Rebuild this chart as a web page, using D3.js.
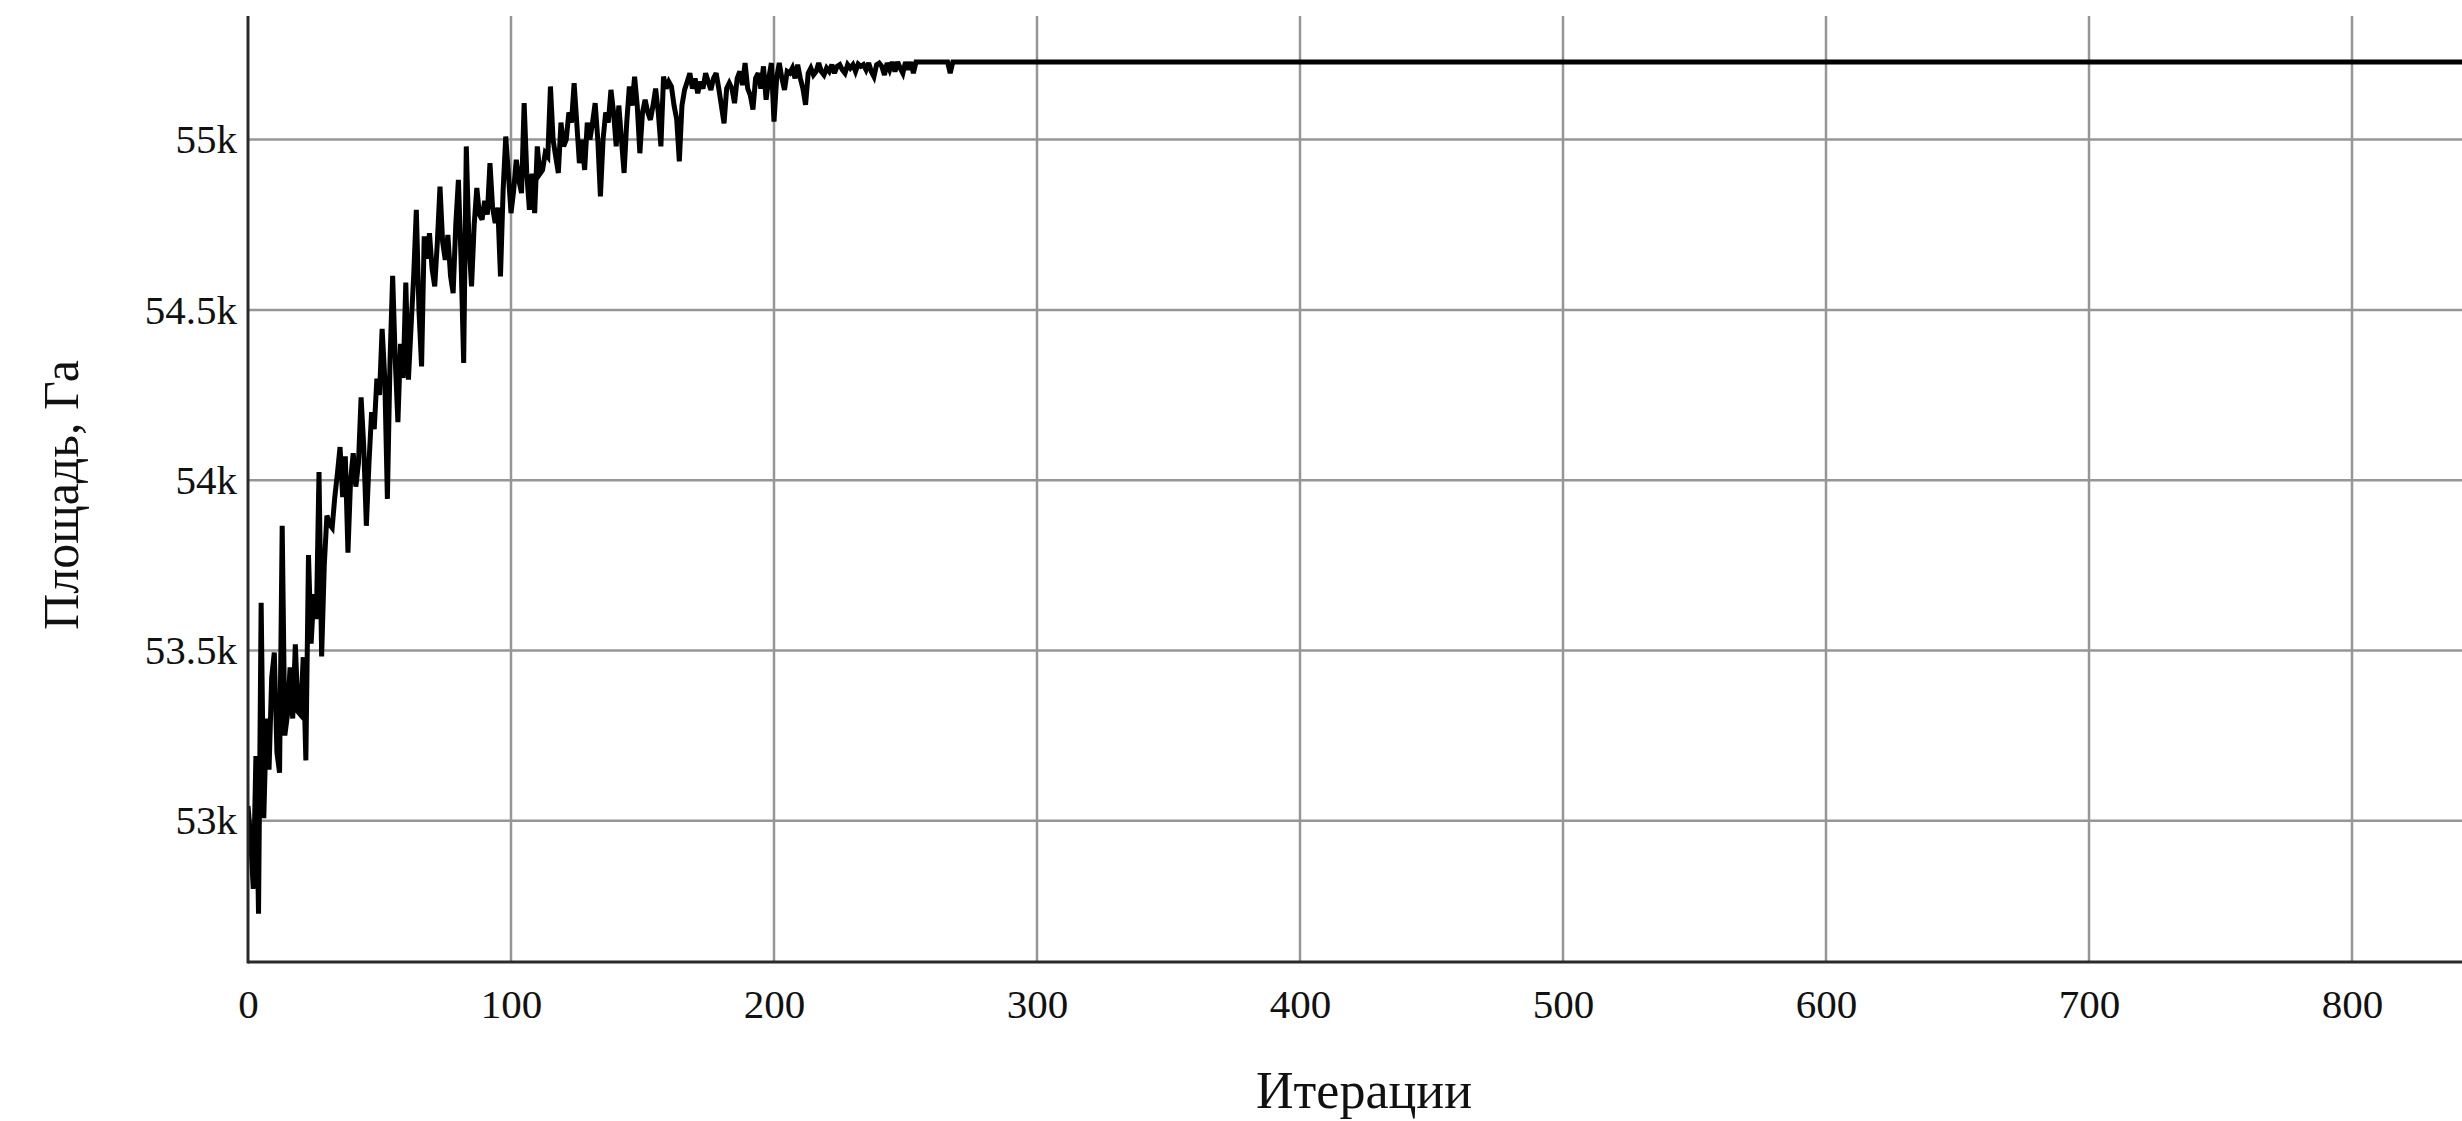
<!DOCTYPE html>
<html><head><meta charset="utf-8">
<script src="https://cdn.jsdelivr.net/npm/d3@7"></script>
<style>
html,body{margin:0;padding:0;background:#fff;overflow:hidden;}
text{font-family:"Liberation Serif","Times New Roman",serif;fill:#111;}
</style></head>
<body>
<svg id="chart" width="2462" height="1121"></svg>
<script>
// Area (ha) per iteration, starting at iteration 0
const areaValues = [
53043,52950,52800,53190,52727,53640,53007,53300,53150,53420,
53494,53200,53141,53866,53250,53311,53450,53300,53518,53320,
53311,53480,53177,53780,53520,53665,53592,54024,53482,53750,
53896,53870,53860,53950,54020,54097,53950,54070,53787,54000,
54079,53981,54050,54243,54100,53866,54050,54200,54150,54298,
54250,54444,54300,53945,54350,54600,54350,54170,54400,54300,
54580,54295,54450,54600,54794,54500,54334,54716,54650,54725,
54620,54569,54700,54862,54700,54647,54720,54600,54549,54750,
54882,54650,54344,54980,54700,54569,54750,54858,54780,54765,
54820,54780,54931,54800,54755,54800,54598,54850,55009,54900,
54784,54850,54941,54880,54843,55107,54900,54794,54900,54784,
54980,54900,54911,54960,54950,55156,55000,54950,54902,55050,
54980,55000,55080,55050,55166,55050,54931,55000,54911,55050,
55000,55050,55107,55000,54833,55000,55080,55050,55146,55080,
54980,55100,55000,54902,55050,55156,55100,55185,55100,54960,
55080,55117,55080,55058,55100,55150,55080,54980,55185,55150,
55170,55156,55100,55060,54936,55100,55146,55170,55195,55150,
55180,55136,55170,55150,55195,55170,55146,55180,55195,55150,
55100,55048,55150,55166,55150,55107,55180,55200,55160,55225,
55150,55130,55088,55180,55195,55150,55215,55117,55180,55225,
55053,55180,55225,55180,55146,55200,55195,55210,55180,55220,
55180,55150,55102,55195,55210,55190,55200,55225,55200,55190,
55210,55200,55220,55195,55215,55220,55205,55195,55220,55210,
55220,55200,55222,55215,55220,55205,55225,55200,55185,55220,
55225,55215,55190,55225,55205,55228,55200,55228,55210,55195,
55228,55205,55228,55195,55228,55228,55228,55228,55228,55228,
55228,55228,55228,55228,55228,55228,55228,55195,55228
];
const lastIteration = 1000;
const lastValue = 55228;
const xTicks = [0,100,200,300,400,500,600,700,800];
const yTicks = [53000,53500,54000,54500,55000];
const xTitle = "Итерации";
const yTitle = "Площадь, Га";

const W = 2462, H = 1121;
const mLeft = 248, mRight = W, mTop = 16, mBottom = 962;

const svg = d3.select("#chart");
const x = d3.scaleLinear().domain([0, 800]).range([mLeft, 2352]);
const y = d3.scaleLinear().domain([52585, 55363]).range([mBottom, mTop]);

const data = areaValues.map((v, i) => [i, v]);
data.push([lastIteration, lastValue]);

// grid
const grid = svg.append("g");
grid.selectAll("line.hg").data(yTicks).join("line")
  .attr("x1", mLeft).attr("x2", mRight)
  .attr("y1", d => y(d)).attr("y2", d => y(d))
  .attr("stroke", "#969696").attr("stroke-width", 2.5);
grid.selectAll("line.vg").data(xTicks.filter(d => d > 0)).join("line")
  .attr("x1", d => x(d)).attr("x2", d => x(d))
  .attr("y1", mTop).attr("y2", mBottom)
  .attr("stroke", "#969696").attr("stroke-width", 2.5);

// line
svg.append("defs").append("clipPath").attr("id", "clip")
  .append("rect").attr("x", mLeft).attr("y", mTop).attr("width", mRight - mLeft).attr("height", mBottom - mTop);
svg.append("path").datum(data)
  .attr("clip-path", "url(#clip)")
  .attr("fill", "none").attr("stroke", "#000").attr("stroke-width", 5)
  .attr("stroke-linejoin", "miter").attr("stroke-miterlimit", 3)
  .attr("d", d3.line().x(d => x(d[0])).y(d => y(d[1])));

// axes
const xAxis = svg.append("g").attr("transform", `translate(0,${mBottom})`)
  .call(d3.axisBottom(x).tickValues(xTicks).tickSize(0).tickPadding(27).tickFormat(d3.format("d")));
xAxis.select(".domain").remove();
xAxis.selectAll("text").style("font-size", "41px").style("font-family", "Liberation Serif");
svg.append("line").attr("x1", mLeft).attr("x2", mRight).attr("y1", mBottom).attr("y2", mBottom)
  .attr("stroke", "#2a2a2a").attr("stroke-width", 3);

const yAxis = svg.append("g").attr("transform", `translate(${mLeft},0)`)
  .call(d3.axisLeft(y).tickValues(yTicks).tickSize(0).tickPadding(11).tickFormat(d => (d / 1000) + "k"));
yAxis.select(".domain").remove();
yAxis.selectAll("text").style("font-size", "41px").style("font-family", "Liberation Serif");
svg.append("line").attr("x1", mLeft).attr("x2", mLeft).attr("y1", mTop).attr("y2", mBottom + 1.5)
  .attr("stroke", "#2a2a2a").attr("stroke-width", 3);

// titles
svg.append("text").attr("x", 1364).attr("y", 1108).attr("text-anchor", "middle")
  .style("font-size", "52px").text(xTitle);
svg.append("text").attr("transform", "translate(78,495) rotate(-90)").attr("text-anchor", "middle")
  .style("font-size", "50px").text(yTitle);
</script>
</body></html>
